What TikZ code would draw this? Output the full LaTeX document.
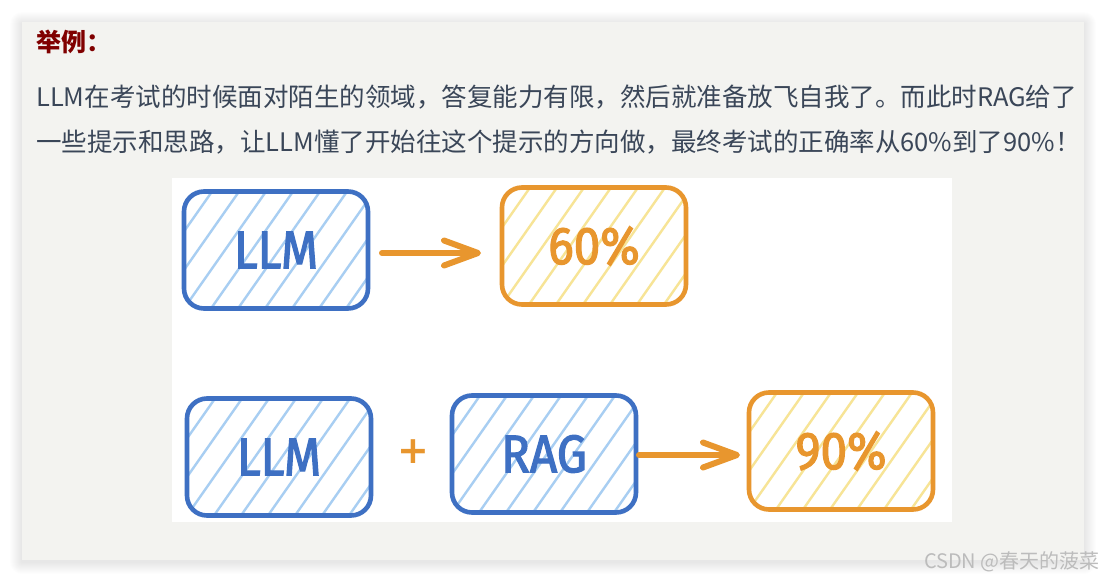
\documentclass[tikz,border=0pt]{standalone}
\usepackage{fontspec}
\usetikzlibrary{arrows.meta}
\newfontfamily\cjk{Noto Sans CJK SC}
\newfontfamily\hand[FakeStretch=0.9, FakeBold=2.2]{Fira Sans}
\newfontfamily\plusfont{DejaVu Sans}
\definecolor{cblue}{RGB}{62,112,195}
\definecolor{chblue}{RGB}{168,206,242}
\definecolor{corange}{RGB}{232,150,46}
\definecolor{chyellow}{RGB}{247,228,150}
\definecolor{cpanel}{RGB}{243,243,240}
\definecolor{ctext}{RGB}{58,70,88}
\definecolor{ctitle}{RGB}{128,0,0}
\definecolor{cmark}{RGB}{188,188,188}
\tikzset{
  hatchlines/.style={path picture={
    \foreach \k in {-4,...,8}
      \draw[draw=#1, line width=2.4pt]
        ([xshift=\k*27pt]path picture bounding box.south west) -- ++(115,-164);}},
  sketchbox/.style={line width=4.6pt, rounded corners=20pt, minimum width=184pt,
    minimum height=117pt, outer sep=0pt, inner sep=0pt,
    font=\hand\fontsize{53}{56}\selectfont},
  bluebox/.style={sketchbox, draw=cblue, text=cblue, hatchlines=chblue},
  orangebox/.style={sketchbox, draw=corange, text=corange, hatchlines=chyellow},
  arr/.style={draw=corange, line width=6pt, line cap=round,
    -{Straight Barb[length=34pt, width=25pt, line cap=round, line join=round]}},
  bodytext/.style={anchor=west, inner sep=0pt, text=ctext,
    font=\cjk\fontsize{25.5}{30}\selectfont},
}
\begin{document}
\begin{tikzpicture}[x=1pt,y=-1pt]
\fill[white] (0,0) rectangle (1104,582);
\useasboundingbox (0,0) rectangle (1104,582);
% panel shadow
\foreach \i in {1,...,12}
  \fill[black, opacity=0.006, rounded corners=\i pt] (22-\i,22-\i+2) rectangle (1084+\i,560+\i+2);
\fill[cpanel] (22,22) rectangle (1084,560);
% image area
\fill[white] (172,178) rectangle (952,522);
% texts
\node[bodytext, text=ctitle, font=\cjk\bfseries\fontsize{25}{30}\selectfont] (title) at (36,42) {举例：};
\node[bodytext] (line1) at (36,97) {LLM在考试的时候面对陌生的领域，答复能力有限，然后就准备放飞自我了。而此时RAG给了};
\node[bodytext] (line2) at (36,142) {一些提示和思路，让LLM懂了开始往这个提示的方向做，最终考试的正确率从60\%到了90\%！};
% boxes
\node[bluebox] (llm1) at (276,250) {LLM};
\node[orangebox] (p60) at (594,246) {60\%};
\node[bluebox] (llm2) at (279,457) {LLM};
\node[bluebox] (rag) at (544,454) {RAG};
\node[orangebox] (p90) at (841,451) {90\%};
\node[text=corange, font=\plusfont\bfseries\fontsize{38}{42}\selectfont, inner sep=0pt] (plus) at (413,452) {+};
% arrows
\draw[arr, shorten <=14pt, shorten >=21pt] (llm1.east |- 0,253) -- (p60.west |- 0,253);
\draw[arr, shorten <=3pt, shorten >=9pt] (rag.east |- 0,455) -- (p90.west |- 0,455);
% watermark
\node[anchor=east, inner sep=0pt, text=cmark, font=\cjk\fontsize{20}{24}\selectfont] (mark) at (1100,562) {CSDN @春天的菠菜};
\end{tikzpicture}
\end{document}
